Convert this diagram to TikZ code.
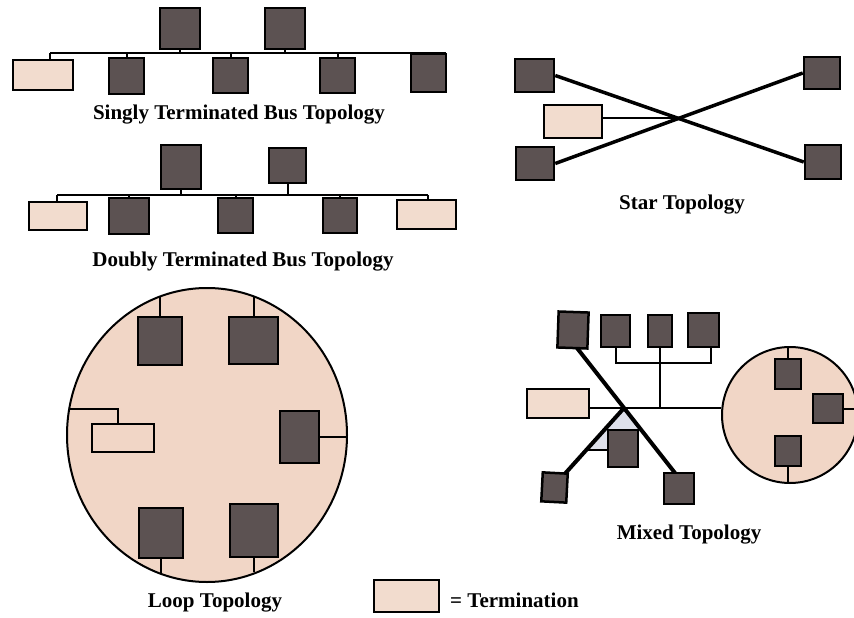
\documentclass[tikz,border=0pt]{standalone}
\usepackage{fontspec}
\setmainfont{Liberation Serif}
\usetikzlibrary{shapes.geometric}
\definecolor{devfill}{RGB}{92,82,82}
\definecolor{termfill}{RGB}{242,220,206}
\definecolor{loopfill}{RGB}{241,214,198}
\definecolor{trigray}{RGB}{222,224,234}
\begin{document}
\begin{tikzpicture}[x=1pt,y=-1pt,
  dev/.style={draw=black, fill=devfill, line width=2.5pt, inner sep=0pt, rectangle},
  term/.style={draw=black, fill=termfill, line width=2pt, inner sep=0pt, rectangle},
  wire/.style={line width=2pt, black},
  swire/.style={line width=3.5pt, black},
  mwire/.style={line width=4pt, black},
  lbl/.style={font=\fontsize{21}{24}\selectfont\bfseries, inner sep=0pt}
]
\useasboundingbox (0,0) rectangle (854,618);

% ---------- Singly terminated bus ----------
\node[dev,minimum width=40,minimum height=41] (st1) at (180,28.5) {};
\node[dev,minimum width=40,minimum height=41] (st2) at (285,28.5) {};
\node[term,minimum width=60,minimum height=30] (sterm) at (43,75) {};
\node[dev,minimum width=35,minimum height=36] (sb2) at (126.5,76) {};
\node[dev,minimum width=35,minimum height=35] (sb3) at (230.5,75.5) {};
\node[dev,minimum width=35,minimum height=35] (sb4) at (337.5,75.5) {};
\node[dev,minimum width=35,minimum height=38] (sb5) at (428.5,73) {};
\coordinate (sbusL) at (50,53);
\coordinate (sbusR) at (446,53);
\draw[wire] (sbusL) -- (sbusR);
\draw[wire] (sbusL) -- (sbusL |- sterm.north);
\foreach \n in {sb2,sb3,sb4} \draw[wire] (\n.north) -- (\n.north |- sbusL);
\foreach \n in {st1,st2} \draw[wire] (\n.south) -- (\n.south |- sbusL);
\node[lbl] (slbl) at (239,115) {Singly Terminated Bus Topology};

% ---------- Doubly terminated bus ----------
\node[dev,minimum width=40,minimum height=44] (dt1) at (181,167) {};
\node[dev,minimum width=37,minimum height=35] (dt2) at (287.5,165.5) {};
\node[term,minimum width=58,minimum height=28] (dterm1) at (58,216) {};
\node[dev,minimum width=40,minimum height=36] (db2) at (129,216) {};
\node[dev,minimum width=35,minimum height=35] (db3) at (235.5,215.5) {};
\node[dev,minimum width=34,minimum height=35] (db4) at (340,215.5) {};
\node[term,minimum width=59,minimum height=29] (dterm2) at (426.5,214.5) {};
\coordinate (dbusL) at (57,195);
\coordinate (dbusR) at (428,195);
\draw[wire] (dbusL) -- (dbusR);
\draw[wire] (dbusL) -- (dbusL |- dterm1.north);
\draw[wire] (dbusR) -- (dbusR |- dterm2.north);
\foreach \n in {db2,db3,db4} \draw[wire] (\n.north) -- (\n.north |- dbusL);
\foreach \n in {dt1,dt2} \draw[wire] (\n.south) -- (\n.south |- dbusL);
\node[lbl] (dlbl) at (243,262) {Doubly Terminated Bus Topology};

% ---------- Star ----------
\node[dev,minimum width=39,minimum height=33] (sTL) at (534.5,75.5) {};
\node[term,minimum width=58,minimum height=33] (sT) at (573,121.5) {};
\node[dev,minimum width=38,minimum height=33] (sBL) at (535,163.5) {};
\node[dev,minimum width=36,minimum height=32] (sTR) at (822,73) {};
\node[dev,minimum width=36,minimum height=34] (sBR) at (823,162) {};
\coordinate (hub) at (678,118);
\draw[swire] (sTL.east) -- (sBR.west);
\draw[swire] (sBL.east) -- (sTR.west);
\draw[wire] (sT.east |- hub) -- (hub);
\node[lbl] (starlbl) at (682,205) {Star Topology};

% ---------- Loop ----------
\node[draw=black, line width=2pt, fill=loopfill, ellipse, inner sep=0pt,
      minimum width=280, minimum height=294] (loop) at (207,435) {};
\node[dev,minimum width=44,minimum height=48] (lTL) at (160,341) {};
\node[dev,minimum width=49,minimum height=47] (lTR) at (253.5,340.5) {};
\node[dev,minimum width=39,minimum height=52] (lR) at (299.5,437) {};
\node[dev,minimum width=44,minimum height=50] (lBL) at (161,533) {};
\node[dev,minimum width=48,minimum height=53] (lBR) at (254,530.5) {};
\node[draw=black, line width=2pt, fill=loopfill, inner sep=0pt,
      minimum width=62, minimum height=28] (lterm) at (123,438) {};
\coordinate (lcTL) at (160,296.5);
\coordinate (lcTR) at (253.5,296.2);
\coordinate (lcR) at (348,437);
\coordinate (lcBL) at (161,573);
\coordinate (lcBR) at (254,572);
\coordinate (lcT1) at (118,409);
\coordinate (lcT2) at (69,409);
\draw[wire] (lTL.north) -- (lcTL);
\draw[wire] (lTR.north) -- (lcTR);
\draw[wire] (lR.east) -- (lcR);
\draw[wire] (lBL.south) -- (lcBL);
\draw[wire] (lBR.south) -- (lcBR);
\draw[wire] (lcT1 |- lterm.north) -- (lcT1) -- (lcT2);
\node[lbl] (looplbl) at (215,603) {Loop Topology};

% ---------- Mixed ----------
\coordinate (a1) at (577,348);
\coordinate (a2) at (675,473);
\coordinate (hub2) at (624,408);
\coordinate (b2) at (562,477);
\coordinate (tri) at (586,450);
\fill[trigray] (hub2) -- (tri) -- (623,450) -- (623,431) -- (642,431) -- cycle;
\draw[mwire] (a1) -- (a2);
\draw[mwire] (hub2) -- (b2);
\node[circle, draw=black, line width=2pt, fill=loopfill, inner sep=0pt,
      minimum size=136] (mc) at (790,415) {};
\node[dev,minimum width=30,minimum height=36,rotate=-2] (mB1) at (573,330) {};
\node[dev,minimum width=29,minimum height=32] (mB2) at (615.5,331) {};
\node[dev,minimum width=24,minimum height=32] (mB3) at (660,331) {};
\node[dev,minimum width=31,minimum height=34] (mB4) at (703.5,330) {};
\node[term,minimum width=62,minimum height=29] (mterm) at (558,403.5) {};
\node[dev,minimum width=30,minimum height=31] (mBR) at (679,488.5) {};
\node[dev,minimum width=25,minimum height=29,rotate=-3] (mBL) at (554.5,487.5) {};
\node[dev,minimum width=30,minimum height=37] (mBM) at (623,448.5) {};
\node[dev,minimum width=26,minimum height=30] (mcT) at (788,374) {};
\node[dev,minimum width=30,minimum height=29] (mcR) at (828,408.5) {};
\node[dev,minimum width=26,minimum height=30] (mcB) at (788,451) {};
\coordinate (mbusL) at (589,408);
\coordinate (combL) at (615.5,363);
\coordinate (combR) at (711,363);
\draw[wire] (mbusL) -- (mbusL -| mc.west);
\draw[wire] (mB3.south) -- (mB3.south |- mbusL);
\draw[wire] (mB2.south) -- (combL) -- (combR) -- (combR |- mB4.south);
\draw[wire] (tri) -- (tri -| mBM.west);
\draw[wire] (mcT.north) -- (mcT.north |- mc.north);
\draw[wire] (mcB.south) -- (mcB.south |- mc.south);
\draw[wire] (mcR.east) -- (mcR.east -| mc.east);
\node[lbl] (mixlbl) at (689,535) {Mixed Topology};

% ---------- Legend ----------
\node[term, line width=2.5pt, minimum width=65, minimum height=32] (leg) at (406.5,596) {};
\node[lbl, anchor=west] (legtxt) at (450,600) {= Termination};
\end{tikzpicture}
\end{document}
